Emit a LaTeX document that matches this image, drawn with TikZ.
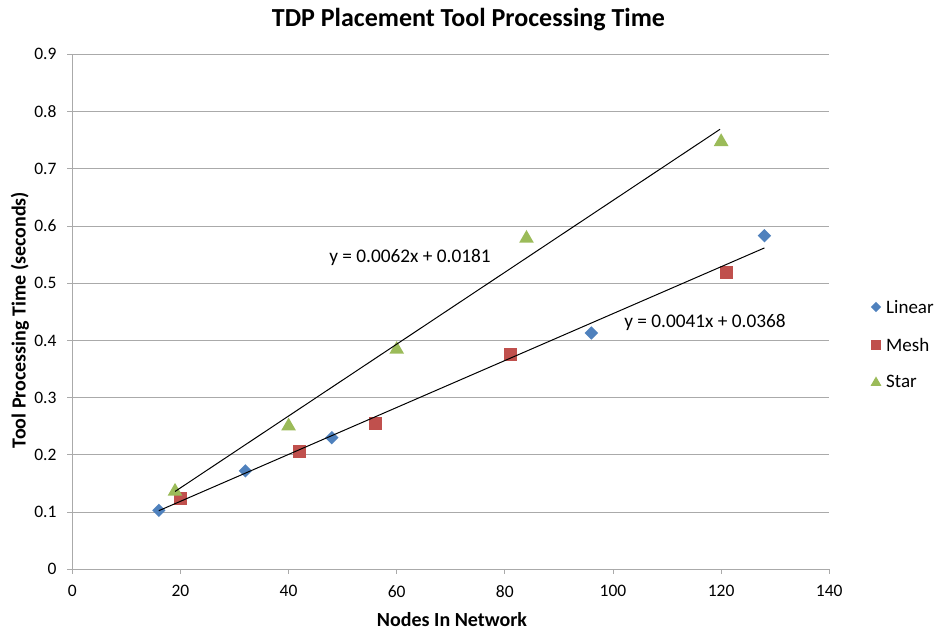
\documentclass[tikz,border=0pt]{standalone}
\usepackage{fontspec}
\setmainfont{Carlito}
\usetikzlibrary{shapes.geometric}
\definecolor{linblue}{RGB}{79,129,189}
\definecolor{meshred}{RGB}{192,80,77}
\definecolor{stargreen}{RGB}{155,187,89}
\definecolor{gridgray}{RGB}{170,170,170}
\tikzset{
  gridline/.style={draw=gridgray, line width=0.9pt},
  ticklabel/.style={inner sep=0pt, font=\fontsize{17.5}{20}\selectfont},
  mkdiamond/.style={shape=diamond, fill=linblue, inner sep=0pt, minimum width=13.5pt, minimum height=13.5pt},
  mksquare/.style={shape=rectangle, fill=meshred, inner sep=0pt, minimum size=13pt},
  mktriangle/.style={shape=regular polygon, regular polygon sides=3, fill=stargreen, inner sep=0pt, minimum size=17pt, yshift=-2.2pt},
  trend/.style={draw=black, line width=1pt},
  eqlabel/.style={inner sep=0pt, font=\fontsize{19.3}{22}\selectfont},
  legtext/.style={inner sep=0pt, anchor=west, font=\fontsize{19}{22}\selectfont},
  axtitle/.style={inner sep=0pt, font=\bfseries\fontsize{20}{24}\selectfont},
}
\begin{document}
\begin{tikzpicture}[x=1pt,y=1pt]
\useasboundingbox (0,0) rectangle (938,631);
% title
\node[inner sep=0pt, font=\bfseries\fontsize{26}{30}\selectfont] (title) at (468.5,611) {TDP Placement Tool Processing Time};
% axis titles
\node[axtitle] (xtitle) at (452,11) {Nodes In Network};
\node[axtitle, rotate=90] (ytitle) at (20,311) {Tool Processing Time (seconds)};
% data area: x in nodes, y in seconds
\begin{scope}[shift={(72.3,61.7)}, x=5.407pt, y=572.2pt]
  \foreach \v in {1,...,9} {
    \draw[gridline] (-0.93,0.\v) -- (140,0.\v);
    \node[ticklabel, anchor=east] at (-2.9,0.\v) {0.\v};
  }
  \draw[gridline] (0,0) -- (140,0);
  \draw[gridline] (0,0) -- (0,0.9);
  \draw[gridline] (-0.93,0) -- (0,0);
  \node[ticklabel, anchor=east] at (-2.9,0) {0};
  \foreach \u in {0,20,...,140} {
    \draw[gridline] (\u,0) -- (\u,-0.0087);
    \node[ticklabel] at (\u,-0.0385) {\u};
  }
  % trend lines
  \coordinate (s0) at (19,0.136);
  \coordinate (s1) at (119.8,0.769);
  \coordinate (l0) at (16,0.1024);
  \coordinate (l1) at (128,0.5616);
  % Linear
  \node[mkdiamond] (lin1) at (16,0.103) {};
  \node[mkdiamond] (lin2) at (32,0.172) {};
  \node[mkdiamond] (lin3) at (48,0.230) {};
  \node[mkdiamond] (lin4) at (96,0.413) {};
  \node[mkdiamond] (lin5) at (128,0.583) {};
  % Mesh
  \node[mksquare] (mesh1) at (20,0.123) {};
  \node[mksquare] (mesh2) at (42,0.205) {};
  \node[mksquare] (mesh3) at (56,0.255) {};
  \node[mksquare] (mesh4) at (81,0.375) {};
  \node[mksquare] (mesh5) at (121,0.518) {};
  % Star
  \node[mktriangle] (star1) at (19,0.140) {};
  \node[mktriangle] (star2) at (40,0.254) {};
  \node[mktriangle] (star3) at (60,0.388) {};
  \node[mktriangle] (star4) at (84,0.582) {};
  \node[mktriangle] (star5) at (120,0.751) {};
  \draw[trend] (s0) -- (s1);
  \draw[trend] (l0) -- (l1);
\end{scope}
% equations
\node[eqlabel] (eq1) at (410,374) {y = 0.0062x + 0.0181};
\node[eqlabel] (eq2) at (705,309) {y = 0.0041x + 0.0368};
% legend
\node[mkdiamond, minimum width=10.5pt, minimum height=10.5pt] (legl) at (876,324) {};
\node[mksquare, minimum size=10pt] (legm) at (876,286) {};
\node[mktriangle, minimum size=12.5pt, yshift=0.5pt] (legs) at (876,250) {};
\node[legtext] (legltxt) at (886,324) {Linear};
\node[legtext] (legmtxt) at (886,286) {Mesh};
\node[legtext] (legstxt) at (886,250) {Star};
\end{tikzpicture}
\end{document}
